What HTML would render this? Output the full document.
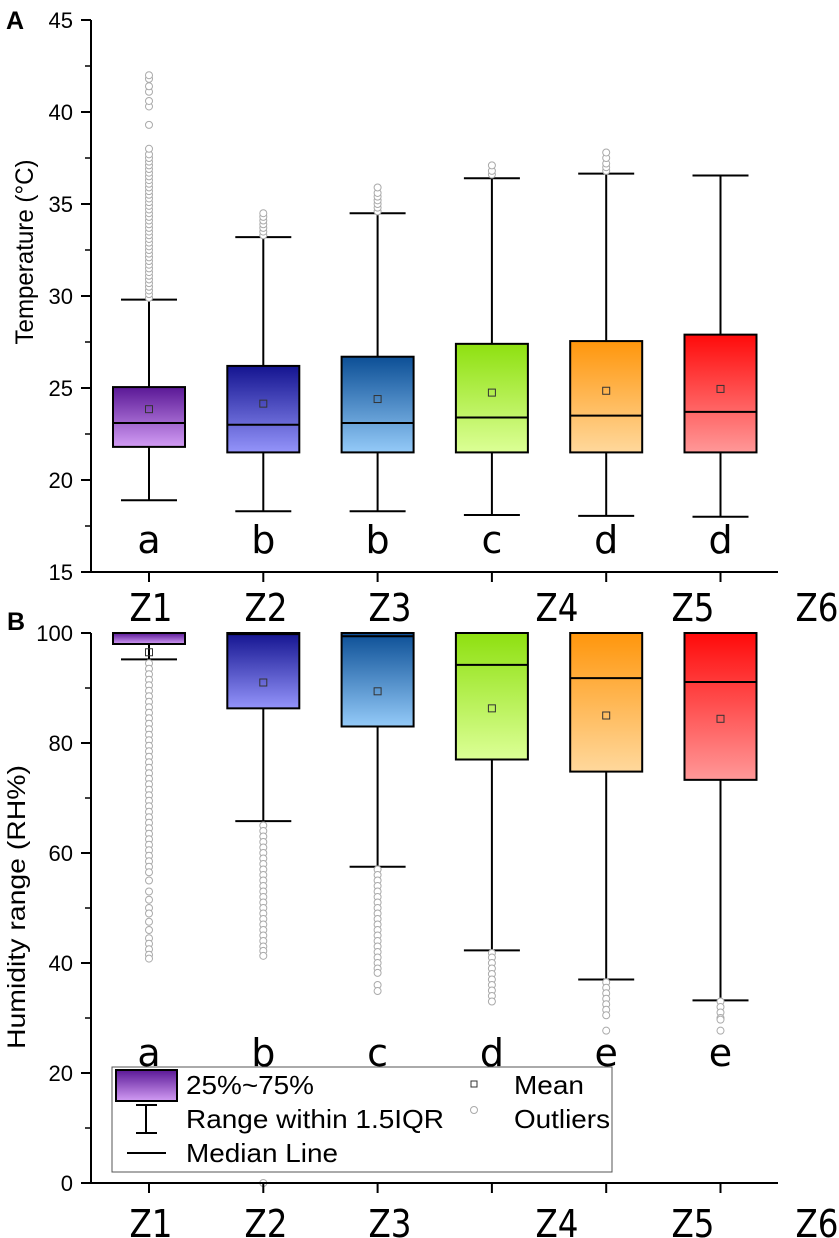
<!DOCTYPE html>
<html><head><meta charset="utf-8"><style>
html,body{margin:0;padding:0;background:#fff}
svg{display:block}
text{font-family:"Liberation Sans",sans-serif;fill:#000}
.big{font-family:"DejaVu Sans","Liberation Sans",sans-serif;font-size:38px}
</style></head><body>
<svg id="chart" width="839" height="1238" viewBox="0 0 839 1238" xmlns="http://www.w3.org/2000/svg">
<defs id="defs"></defs>
<g id="panelA"></g>
<g id="panelB"></g>
</svg>
<script>
const categories = ["Z1","Z2","Z3","Z4","Z5","Z6"];
const tempLow = [18.9,18.3,18.3,18.1,18.05,18.0];
const tempQ1 = [21.8,21.5,21.5,21.5,21.5,21.5];
const tempMed = [23.1,23.0,23.1,23.4,23.5,23.7];
const tempQ3 = [25.05,26.2,26.7,27.4,27.55,27.9];
const tempHigh = [29.8,33.2,34.5,36.4,36.65,36.55];
const tempMean = [23.85,24.15,24.4,24.75,24.85,24.95];
const tempOutliers = [
 [29.9,30.1,30.3,30.5,30.7,30.9,31.1,31.3,31.5,31.7,31.9,32.1,32.3,32.5,32.7,32.9,33.1,33.3,33.5,33.7,33.9,34.1,34.3,34.5,34.7,34.9,35.1,35.3,35.5,35.7,35.9,36.1,36.3,36.5,36.7,36.9,37.1,37.3,37.5,37.7,38.0,39.3,40.3,40.6,41.1,41.4,41.8,42],
 [33.3,33.5,33.7,33.9,34.1,34.3,34.5],
 [34.6,34.8,35.0,35.2,35.4,35.6,35.9],
 [36.6,36.8,37.1],
 [36.8,37.0,37.2,37.5,37.8],
 []
];
const tempLetters = ["a","b","b","c","d","d"];
const tempTicks = [15,20,25,30,35,40,45];

const humLow = [95.2,65.8,57.5,42.3,37.0,33.2];
const humQ1 = [98.0,86.3,83.0,77.0,74.8,73.3];
const humMed = [100,99.8,99.4,94.2,91.8,91.1];
const humQ3 = [100,100,100,100,100,100];
const humHigh = [100,100,100,100,100,100];
const humMean = [96.5,91.0,89.4,86.3,85.0,84.4];
const humOutliers = [
 [94.5,93.5,92.5,91.5,90.5,89.5,88.5,87.5,86.5,85.5,84.5,83.5,82.5,81.5,80.5,79.5,78.5,77.5,76.5,75.5,74.5,73.5,72.5,71.5,70.5,69.5,68.5,67.5,66.5,65.5,64.5,63.5,62.5,61.5,60.5,59.5,58.5,57.5,56.5,55,53,51.5,50,49,47.5,46,44.5,43.5,42.5,41.5,40.8],
 [65,64,63,62,61,60,59,58,57,56,55,54,53,52,51,50,49,48,47,46,45,44,43,42.2,41.3,0],
 [57,56,55,54,53,52,51,50,49,48,47,46,45,44,43,42,41,40,39,38.2,36,34.9],
 [41.8,41,40,39,38,37,36,35,34,33],
 [36.5,35.5,34.5,33.5,32.5,31.5,30.5,27.7],
 [33,32,31,30,29.7,27.7]
];
const humLetters = ["a","b","c","d","e","e"];
const humTicks = [0,20,40,60,80,100];

const colorsTop = ["#5a1896","#141490","#0c4f96","#8ee010","#ff960c","#ff0a0a"];
const colorsBot = ["#d29cf4","#9494fa","#94caf8","#dcff96","#ffd89c","#ff9898"];

const NS = "http://www.w3.org/2000/svg";
const svg = document.getElementById("chart");
const defs = document.getElementById("defs");
function mk(tag, attrs, parent){const e=document.createElementNS(NS,tag);for(const k in attrs)e.setAttribute(k,attrs[k]);if(parent)parent.appendChild(e);return e;}

colorsTop.forEach((c,i)=>{
  const g=mk("linearGradient",{id:"grad"+i,x1:0,y1:0,x2:0,y2:1},defs);
  mk("stop",{offset:"0","stop-color":c},g);
  mk("stop",{offset:"1","stop-color":colorsBot[i]},g);
});

const xPos = i => 149 + i*114.3;
const axisLeft = 91, axisRight = 778, halfW = 36;
const labX=[151,266,390,557,693,817];

function drawPanel(g, cfg){
  const y = v => cfg.y0px - (v - cfg.min)*(cfg.y0px - cfg.y1px)/(cfg.max - cfg.min);
  categories.forEach((cat,i)=>{
    const cx = xPos(i);
    const bg = mk("g",{},g);
    
    
    const wl = mk("line",{x1:cx,x2:cx,y1:y(cfg.q1[i]),y2:y(cfg.low[i]),stroke:"#000","stroke-width":2},bg);
    
    
    mk("line",{x1:cx-28,x2:cx+28,y1:y(cfg.low[i]),y2:y(cfg.low[i]),stroke:"#000","stroke-width":2},bg);
    if(cfg.high[i] > cfg.q3[i]){
      const wh = mk("line",{x1:cx,x2:cx,y1:y(cfg.q3[i]),y2:y(cfg.high[i]),stroke:"#000","stroke-width":2},bg);
      
      
      mk("line",{x1:cx-28,x2:cx+28,y1:y(cfg.high[i]),y2:y(cfg.high[i]),stroke:"#000","stroke-width":2},bg);
    }
    cfg.out[i].forEach(v=>{
      const o = mk("circle",{cx:cx,cy:y(v),r:3.5,fill:"#fff",stroke:"#aaa","stroke-width":1},bg);
      
      
    });
    const r = mk("rect",{x:cx-halfW,y:y(cfg.q3[i]),width:halfW*2,height:Math.max(1,y(cfg.q1[i])-y(cfg.q3[i])),fill:"url(#grad"+i+")",stroke:"#000","stroke-width":2},bg);
    
    
    const m = mk("line",{x1:cx-halfW,x2:cx+halfW,y1:y(cfg.med[i]),y2:y(cfg.med[i]),stroke:"#000","stroke-width":2},bg);
    
    
    const mn = mk("rect",{x:cx-3.5,y:y(cfg.mean[i])-3.5,width:7,height:7,fill:"none",stroke:"#333","stroke-width":1},bg);
    
    
    const lt = mk("text",{x:cx,y:cfg.letterY,"text-anchor":"middle",class:"big"},bg);
    lt.textContent = cfg.letters[i];
    
    
  });
  const ya = mk("line",{x1:axisLeft,x2:axisLeft,y1:cfg.y1px,y2:cfg.y0px+1,stroke:"#000","stroke-width":2},g);
  
  
  const xa = mk("line",{x1:axisLeft-1,x2:axisRight,y1:cfg.y0px,y2:cfg.y0px,stroke:"#000","stroke-width":2},g);
  
  
  cfg.ticks.forEach((t,k)=>{
    mk("line",{x1:axisLeft-10,x2:axisLeft,y1:y(t),y2:y(t),stroke:"#000","stroke-width":2},g);
    const tl = mk("text",{x:axisLeft-18,y:y(t)+8,"text-anchor":"end","font-size":22},g);
    tl.textContent = t;
    
    
    if(k<cfg.ticks.length-1){
      const mv=(t+cfg.ticks[k+1])/2;
      mk("line",{x1:axisLeft-6,x2:axisLeft,y1:y(mv),y2:y(mv),stroke:"#000","stroke-width":1.5},g);
    }
  });
  categories.forEach((c,i)=>{
    mk("line",{x1:xPos(i),x2:xPos(i),y1:cfg.y0px,y2:cfg.y0px+10,stroke:"#000","stroke-width":2},g);
  });
  categories.forEach((c,i)=>{
    const tl = mk("text",{x:labX[i],y:cfg.catY,"text-anchor":"middle",class:"big",textLength:43,lengthAdjust:"spacingAndGlyphs"},g);
    tl.textContent=c;
    
    
  });
  const at = mk("text",{x:0,y:0,"text-anchor":"middle","font-size":cfg.titleSize,textLength:cfg.titleLen,lengthAdjust:"spacingAndGlyphs",transform:"translate("+cfg.titleX+","+cfg.titleY+") rotate(-90)"},g);
  at.textContent = cfg.title;
  
  
  const pl = mk("text",{x:cfg.plX,y:cfg.plY,"font-size":25,"font-weight":"bold"},g);
  pl.textContent = cfg.panel;
  
  
}

drawPanel(document.getElementById("panelA"),{
  min:15,max:45,y0px:572,y1px:20,low:tempLow,q1:tempQ1,med:tempMed,q3:tempQ3,high:tempHigh,mean:tempMean,out:tempOutliers,
  letters:tempLetters,letterY:553,ticks:tempTicks,catY:621,title:"Temperature (°C)",titleSize:25,titleLen:185,titleX:33,titleY:252,panel:"A",plX:6,plY:29
});
drawPanel(document.getElementById("panelB"),{
  min:0,max:100,y0px:1183,y1px:633,low:humLow,q1:humQ1,med:humMed,q3:humQ3,high:humHigh,mean:humMean,out:humOutliers,
  letters:humLetters,letterY:1066,ticks:humTicks,catY:1237,title:"Humidity range (RH%)",titleSize:25,titleLen:284,titleX:25,titleY:907,panel:"B",plX:7,plY:630
});

const lg = mk("g",{},svg);


mk("rect",{x:112,y:1067,width:500,height:105,fill:"#fff",stroke:"#555","stroke-width":1},lg);
mk("rect",{x:116,y:1070,width:61,height:31,fill:"url(#grad0)",stroke:"#000","stroke-width":2},lg);
mk("line",{x1:146,x2:146,y1:1105,y2:1133,stroke:"#000","stroke-width":2},lg);
mk("line",{x1:136,x2:157,y1:1105,y2:1105,stroke:"#000","stroke-width":2},lg);
mk("line",{x1:136,x2:157,y1:1133,y2:1133,stroke:"#000","stroke-width":2},lg);
mk("line",{x1:127,x2:166,y1:1153,y2:1153,stroke:"#000","stroke-width":2},lg);
mk("rect",{x:471,y:1081,width:6,height:6,fill:"none",stroke:"#333","stroke-width":1},lg);
mk("circle",{cx:474,cy:1110,r:3.5,fill:"#fff",stroke:"#aaa","stroke-width":1},lg);
[["25%~75%",186,1094,128,"legend-entry-iqr"],["Range within 1.5IQR",186,1128,258,"legend-entry-range"],["Median Line",186,1162,152,"legend-entry-median"],["Mean",514,1094,70,"legend-entry-mean"],["Outliers",514,1128,96,"legend-entry-outliers"]].forEach(d=>{
  const t = mk("text",{x:d[1],y:d[2],"font-size":26,textLength:d[3],lengthAdjust:"spacingAndGlyphs"},lg);
  t.textContent=d[0];
  
  
});
</script>
</body></html>
